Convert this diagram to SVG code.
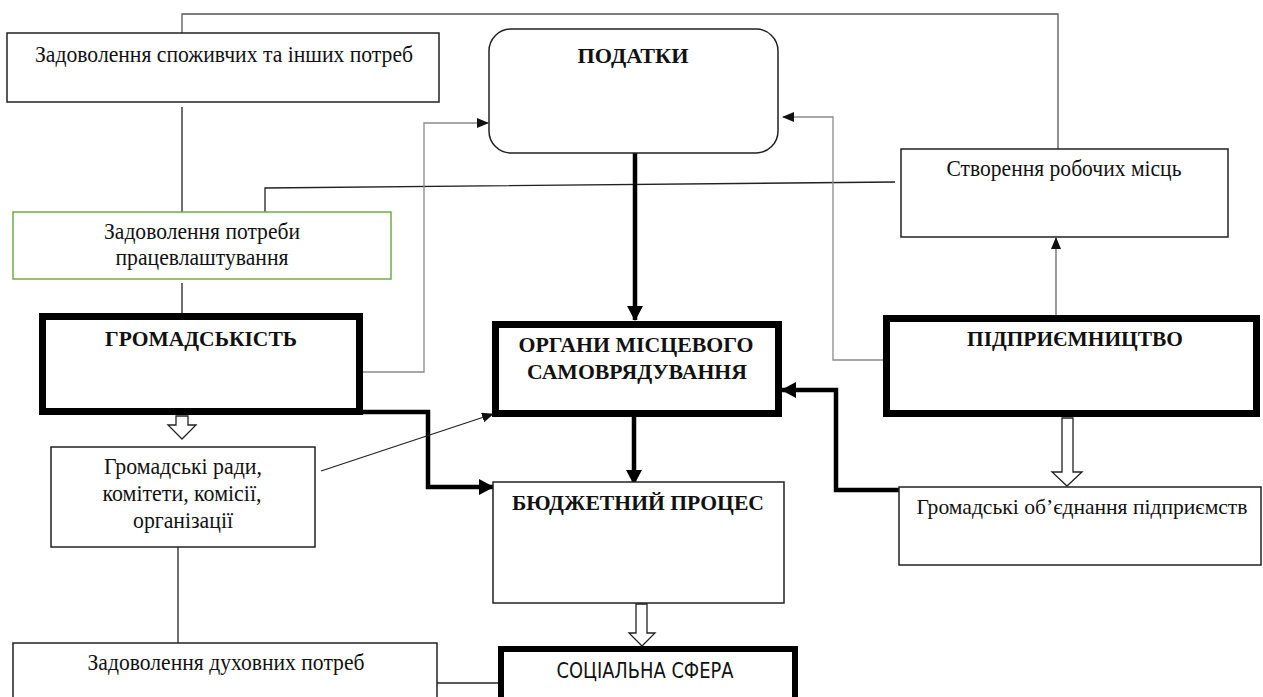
<svg xmlns="http://www.w3.org/2000/svg" width="1263" height="697" viewBox="0 0 1263 697">
<style>
.bg{fill:#fff}
.box{fill:#fff;stroke:#222;stroke-width:1.5}
.green{fill:#fff;stroke:#70ad47;stroke-width:1.5}
.thick{fill:#fff;stroke:#000;stroke-width:7}
.t{font-family:"Liberation Serif","Times New Roman",serif;font-size:23px;fill:#111;text-anchor:middle}
.b{font-weight:bold;font-size:22px}
.s{font-family:"Liberation Sans Narrow","DejaVu Sans Condensed","Liberation Sans",sans-serif;font-size:21px;fill:#111;text-anchor:middle}
.thin{fill:none;stroke:#222;stroke-width:1.3}
.gray{fill:none;stroke:#8a8a8a;stroke-width:1.3}
.top{fill:none;stroke:#555;stroke-width:1.3}
.heavy{fill:none;stroke:#000;stroke-width:4.5}
.hollow{fill:#fff;stroke:#222;stroke-width:1.3;stroke-linejoin:miter}
</style>
<defs>
<marker id="ah" markerUnits="userSpaceOnUse" markerWidth="12" markerHeight="10" refX="11" refY="5" orient="auto">
<path d="M0,0 L12,5 L0,10 Z" fill="#111"/>
</marker>
<marker id="ahb" markerUnits="userSpaceOnUse" markerWidth="15" markerHeight="16" refX="14" refY="8" orient="auto">
<path d="M0,0 L15,8 L0,16 Z" fill="#000"/>
</marker>
</defs>
<rect class="bg" x="0" y="0" width="1263" height="697"/>

<g id="connectors">
<path class="top" d="M182,33 V14 H1058 V149"/>
<path class="thin" d="M182,107 V212"/>
<path class="thin" d="M182,283 V313"/>
<path class="thin" d="M895,182 L265,188 V212"/>
<path class="gray" d="M363,372 H424 V123 H488" marker-end="url(#ah)"/>
<path class="gray" d="M883,360 H833 V117 H783" marker-end="url(#ah)"/>
<path class="gray" style="stroke:#666" d="M1056,315 V238" marker-end="url(#ah)"/>
<path class="heavy" d="M635,153 V320" marker-end="url(#ahb)"/>
<path class="heavy" d="M634,417 V484" marker-end="url(#ahb)"/>
<path class="heavy" d="M363,412 H428 V487 H493" marker-end="url(#ahb)"/>
<path class="heavy" d="M899,490 H836 V390 H782" marker-end="url(#ahb)"/>
<path class="thin" d="M321,471 L493,414" marker-end="url(#ah)"/>
<path class="thin" d="M178,547 V643"/>
<path class="thin" d="M437,683 H498"/>
<polygon class="hollow" points="176,416 188,416 188,425 196,425 182,439 168,425 176,425"/>
<polygon class="hollow" points="1062,418 1073,418 1073,472 1082,472 1067,486 1052,472 1062,472"/>
<polygon class="hollow" points="636,604 647,604 647,633 655,633 642,646 629,633 636,633"/>
</g>

<g id="node-spozhyvchi">
<rect class="box" x="7" y="33" width="432" height="69"/>
<text class="t" x="224" y="62" textLength="378" lengthAdjust="spacingAndGlyphs">Задоволення споживчих та інших потреб</text>
</g>

<g id="node-podatky">
<rect class="box" x="489" y="29" width="289" height="124" rx="22" ry="22"/>
<text class="t b" x="633" y="63" textLength="111" lengthAdjust="spacingAndGlyphs">ПОДАТКИ</text>
</g>

<g id="node-robochi">
<rect class="box" x="901" y="149" width="327" height="88"/>
<text class="t" x="1064" y="176" textLength="235" lengthAdjust="spacingAndGlyphs">Створення робочих місць</text>
</g>

<g id="node-pratsevlashtuvannia">
<rect class="green" x="13" y="212" width="378" height="67"/>
<text class="t" x="202" y="239" textLength="196" lengthAdjust="spacingAndGlyphs">Задоволення потреби</text>
<text class="t" x="202" y="265" textLength="173" lengthAdjust="spacingAndGlyphs">працевлаштування</text>
</g>

<g id="node-hromadskist">
<rect class="thick" x="42.5" y="316.5" width="317" height="95"/>
<text class="t b" x="201" y="346" textLength="192" lengthAdjust="spacingAndGlyphs">ГРОМАДСЬКІСТЬ</text>
</g>

<g id="node-orhany">
<rect class="thick" x="495.5" y="324.5" width="283" height="89"/>
<text class="t b" x="636" y="352" textLength="235" lengthAdjust="spacingAndGlyphs">ОРГАНИ МІСЦЕВОГО</text>
<text class="t b" x="637" y="379" textLength="220" lengthAdjust="spacingAndGlyphs">САМОВРЯДУВАННЯ</text>
</g>

<g id="node-pidpryiemnytstvo">
<rect class="thick" x="886.5" y="318.5" width="370" height="95"/>
<text class="t b" x="1075" y="346" textLength="216" lengthAdjust="spacingAndGlyphs">ПІДПРИЄМНИЦТВО</text>
</g>

<g id="node-hromadski-rady">
<rect class="box" x="51" y="447" width="264" height="100"/>
<text class="t" x="183" y="474" textLength="158" lengthAdjust="spacingAndGlyphs">Громадські ради,</text>
<text class="t" x="182" y="501" textLength="159" lengthAdjust="spacingAndGlyphs">комітети, комісії,</text>
<text class="t" x="183" y="528" textLength="100" lengthAdjust="spacingAndGlyphs">організації</text>
</g>

<g id="node-biudzhet">
<rect class="box" x="493" y="482" width="291" height="121"/>
<text class="t b" x="638" y="510" textLength="252" lengthAdjust="spacingAndGlyphs">БЮДЖЕТНИЙ ПРОЦЕС</text>
</g>

<g id="node-obiednannia">
<rect class="box" x="899" y="487" width="362" height="78"/>
<text class="t" style="font-size:22px" x="1082" y="514" textLength="331" lengthAdjust="spacingAndGlyphs">Громадські об’єднання підприємств</text>
</g>

<g id="node-dukhovni">
<rect class="box" x="13" y="643" width="424" height="70"/>
<text class="t" x="226" y="670" textLength="277" lengthAdjust="spacingAndGlyphs">Задоволення духовних потреб</text>
</g>

<g id="node-sotsialna">
<rect class="thick" style="stroke-width:6" x="501" y="649" width="294" height="70"/>
<text class="s" x="645" y="678" textLength="177" lengthAdjust="spacingAndGlyphs">СОЦІАЛЬНА СФЕРА</text>
</g>
</svg>
